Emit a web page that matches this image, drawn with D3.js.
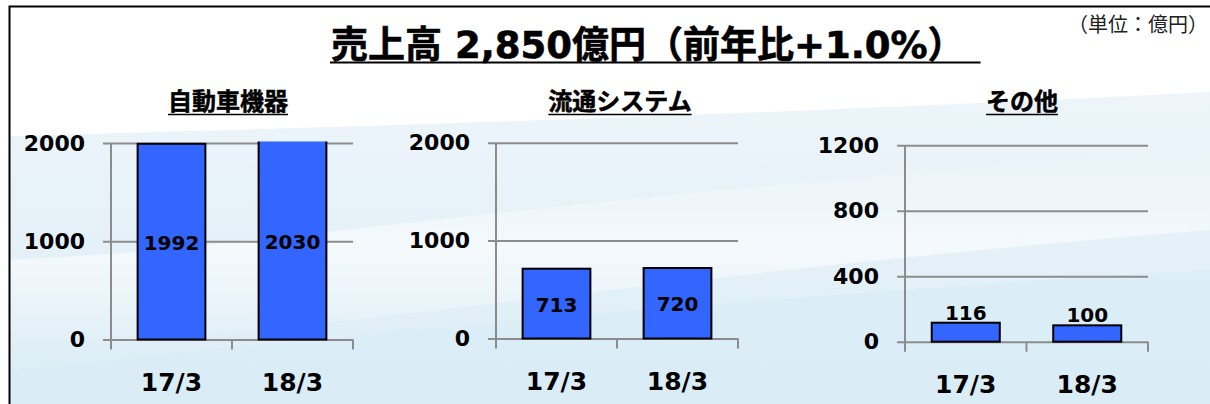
<!DOCTYPE html>
<html lang="ja">
<head>
<meta charset="utf-8">
<script src="https://d3js.org/d3.v7.min.js"></script>
<style>
  body { margin: 0; background: #fff; }
  svg { display: block; }
  text { font-family: "DejaVu Sans", "Noto Sans CJK JP", sans-serif; }
</style>
</head>
<body>
<svg id="chart" width="1210" height="404"></svg>
<script>
// data
var categories = ["17/3", "18/3"];
var autoValues = [1992, 2030];
var distValues = [713, 720];
var otherValues = [116, 100];
var panelTitles = ["自動車機器", "流通システム", "その他"];
var autoTicks = [0, 1000, 2000];
var distTicks = [0, 1000, 2000];
var otherTicks = [0, 400, 800, 1200];
var mainTitle = "売上高 2,850億円（前年比+1.0%）";
var unitLabel = "（単位：億円）";

var svg = d3.select("#chart");
var defs = svg.append("defs");

// background
var g1 = defs.append("linearGradient").attr("id", "bgBlue").attr("x1", 0).attr("y1", 0).attr("x2", 0).attr("y2", 1);
g1.append("stop").attr("offset", "0%").attr("stop-color", "#edf5fa");
g1.append("stop").attr("offset", "100%").attr("stop-color", "#dcedf6");
var g2 = defs.append("linearGradient").attr("id", "bgBand").attr("x1", 0).attr("y1", 0).attr("x2", 0).attr("y2", 1);
g2.append("stop").attr("offset", "0%").attr("stop-color", "#ffffff").attr("stop-opacity", 0);
g2.append("stop").attr("offset", "50%").attr("stop-color", "#ffffff").attr("stop-opacity", 0.6);
g2.append("stop").attr("offset", "100%").attr("stop-color", "#ffffff").attr("stop-opacity", 0);

svg.append("rect").attr("width", 1210).attr("height", 404).attr("fill", "#fff");
svg.append("path")
  .attr("d", "M10,136 C300,128 700,118 1210,92 L1210,404 L10,404 Z")
  .attr("fill", "url(#bgBlue)");
svg.append("path")
  .attr("d", "M10,260 C250,250 500,200 1210,150 L1210,230 C700,270 350,330 10,350 Z")
  .attr("fill", "url(#bgBand)");
svg.append("path")
  .attr("d", "M10,370 C300,340 700,300 1210,270 L1210,404 L10,404 Z")
  .attr("fill", "#d8ecf6").attr("opacity", 0.7);

// frame
svg.append("path").attr("d", "M9.5,404 L9.5,6.5 L1210,6.5")
  .attr("fill", "none").attr("stroke", "#000").attr("stroke-width", 2);

// main title
var title = svg.append("text")
  .attr("x", 331).attr("y", 58)
  .attr("font-size", 37).attr("font-weight", "bold").attr("fill", "#000")
  .attr("stroke", "#000").attr("stroke-width", 0.6)
  .text(mainTitle);
var tlen = title.node().getComputedTextLength();
svg.append("line").attr("x1", 330).attr("x2", 331 + tlen + 16)
  .attr("y1", 62.5).attr("y2", 62.5).attr("stroke", "#000").attr("stroke-width", 2);

svg.append("text")
  .attr("x", 1208).attr("y", 32).attr("text-anchor", "end")
  .attr("font-family", "Noto Sans CJK JP").attr("font-size", 20).attr("fill", "#222")
  .text(unitLabel);

// panels
var panels = [
  { title: panelTitles[0], values: autoValues, ticks: autoTicks, max: 2000, x0: 111, x1: 353, y0: 339.5, y1: 143, labelPos: "inside", titleX: 228 },
  { title: panelTitles[1], values: distValues, ticks: distTicks, max: 2000, x0: 496, x1: 738, y0: 338.5, y1: 142.7, labelPos: "inside", titleX: 620 },
  { title: panelTitles[2], values: otherValues, ticks: otherTicks, max: 1200, x0: 905, x1: 1148, y0: 341.7, y1: 145.3, labelPos: "above", titleX: 1022 }
];

panels.forEach(function(p, pi) {
  var x = d3.scaleBand().domain(categories).range([p.x0, p.x1]).padding(0);
  var y = d3.scaleLinear().domain([0, p.max]).range([p.y0, p.y1]);

  // panel title with underline
  var t = svg.append("text")
    .attr("x", p.titleX).attr("y", 110).attr("text-anchor", "middle")
    .attr("font-family", "Noto Sans CJK JP").attr("font-size", 24).attr("font-weight", "bold")
    .attr("stroke", "#000").attr("stroke-width", 0.5)
    .text(p.title);
  var len = t.node().getComputedTextLength();
  svg.append("line").attr("x1", p.titleX - len / 2).attr("x2", p.titleX + len / 2)
    .attr("y1", 114.5).attr("y2", 114.5).attr("stroke", "#000").attr("stroke-width", 1.5);

  // grid + y labels
  var ax = svg.append("g").attr("transform", "translate(" + p.x0 + ",0)")
    .call(d3.axisLeft(y).tickValues(p.ticks).tickSize(-(p.x1 - p.x0)).tickPadding(26).tickFormat(d3.format("d")));
  ax.select(".domain").remove();
  ax.selectAll(".tick line").attr("x1", -8).attr("stroke", "#8c8c8c").attr("stroke-width", 2);
  ax.selectAll(".tick text")
    .attr("font-family", "DejaVu Sans").attr("font-size", 22).attr("font-weight", "bold")
    .attr("fill", "#000").attr("x", -26);

  // y axis line
  svg.append("line").attr("x1", p.x0).attr("x2", p.x0).attr("y1", p.y1).attr("y2", p.y0 + 10)
    .attr("stroke", "#8c8c8c").attr("stroke-width", 2);

  // category ticks
  var bounds = categories.map(function(c) { return x(c); }).concat([p.x1]);
  svg.selectAll(null).data(bounds.slice(1)).enter().append("line")
    .attr("x1", function(d) { return d; }).attr("x2", function(d) { return d; })
    .attr("y1", p.y0).attr("y2", p.y0 + 10)
    .attr("stroke", "#8c8c8c").attr("stroke-width", 2);

  // clip
  defs.append("clipPath").attr("id", "clip" + pi).append("rect")
    .attr("x", p.x0).attr("y", p.y1 - 1.5).attr("width", p.x1 - p.x0).attr("height", p.y0 - p.y1 + 10);

  var barW = x.bandwidth() * 0.56;
  var bars = svg.append("g").attr("clip-path", "url(#clip" + pi + ")");
  bars.selectAll("rect").data(p.values).enter().append("rect")
    .attr("x", function(d, i) { return x(categories[i]) + (x.bandwidth() - barW) / 2; })
    .attr("y", function(d) { return y(d); })
    .attr("width", barW)
    .attr("height", function(d) { return p.y0 - y(d); })
    .attr("fill", "#3366ff").attr("stroke", "#000").attr("stroke-width", 2);

  // value labels
  svg.selectAll(null).data(p.values).enter().append("text")
    .attr("x", function(d, i) { return x(categories[i]) + x.bandwidth() / 2; })
    .attr("y", function(d) {
      if (p.labelPos === "above") return y(d) - 3;
      return (Math.max(y(d), p.y1) + p.y0) / 2 + 8;
    })
    .attr("text-anchor", "middle")
    .attr("font-family", "DejaVu Sans").attr("font-size", 20).attr("font-weight", "bold").attr("fill", "#000")
    .text(function(d) { return d; });

  // category labels
  svg.selectAll(null).data(categories).enter().append("text")
    .attr("x", function(d) { return x(d) + x.bandwidth() / 2; })
    .attr("y", p.y0 + 51)
    .attr("text-anchor", "middle")
    .attr("font-family", "DejaVu Sans").attr("font-size", 25).attr("font-weight", "bold").attr("fill", "#000")
    .text(function(d) { return d; });
});
</script>
</body>
</html>
